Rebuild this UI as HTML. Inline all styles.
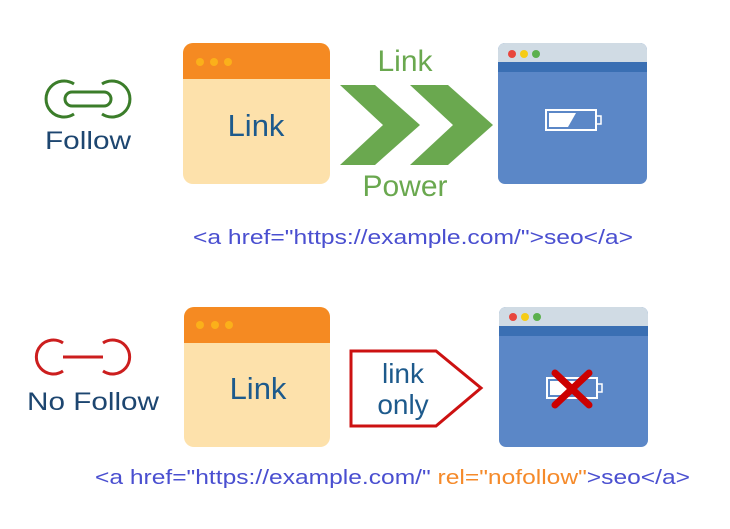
<!DOCTYPE html>
<html><head><meta charset="utf-8"><style>html,body{margin:0;padding:0;background:#fff;}svg{display:block}</style></head><body>
<svg width="730" height="529" viewBox="0 0 730 529" xmlns="http://www.w3.org/2000/svg" font-family="Liberation Sans, DejaVu Sans, sans-serif">
<!-- Follow icon -->
<g fill="none" stroke="#3b7d2a" stroke-width="3">
<path d="M74 84 A18 18 0 1 0 74 114"/>
<path d="M102 84 A18 18 0 1 1 102 114"/>
<rect x="65" y="92" width="46" height="14" rx="7"/>
</g>
<text x="88" y="149" font-size="25" fill="#1d4670" text-anchor="middle" textLength="86" lengthAdjust="spacingAndGlyphs">Follow</text>
<!-- top orange window -->
<rect x="183" y="43" width="147" height="141" rx="10" fill="#fde1ab"/>
<path d="M183 79 V53 a10 10 0 0 1 10 -10 H320 a10 10 0 0 1 10 10 V79 Z" fill="#f58a22"/>
<circle cx="200" cy="62" r="4" fill="#fbb01a"/><circle cx="214" cy="62" r="4" fill="#fbb01a"/><circle cx="228" cy="62" r="4" fill="#fbb01a"/>
<text x="256" y="136" font-size="31" fill="#1d5a8c" text-anchor="middle">Link</text>
<!-- chevrons -->
<polygon points="340,85 375,85 420,125 375,165 340,165 383,125" fill="#6aa84f"/>
<polygon points="410,85 448,85 493,125 448,165 410,165 453,125" fill="#6aa84f"/>
<text x="405" y="71" font-size="30" fill="#6aa84f" text-anchor="middle">Link</text>
<text x="405" y="196" font-size="30" fill="#6aa84f" text-anchor="middle">Power</text>
<!-- top blue window -->
<rect x="498" y="43" width="149" height="141" rx="7" fill="#5b87c7"/>
<path d="M498 62 V50 a7 7 0 0 1 7 -7 H640 a7 7 0 0 1 7 7 V62 Z" fill="#d0dbe4"/>
<rect x="498" y="62" width="149" height="10" fill="#3a6fb3"/>
<circle cx="512" cy="54" r="4" fill="#e8463d"/><circle cx="524" cy="54" r="4" fill="#f6cc16"/><circle cx="536" cy="54" r="4" fill="#5bb04d"/>
<rect x="546" y="110" width="50" height="20" fill="none" stroke="#fff" stroke-width="2"/>
<rect x="596" y="116" width="5" height="8" fill="none" stroke="#fff" stroke-width="1.5"/>
<polygon points="549,113 576,113 568,127 549,127" fill="#fff"/>
<text x="413" y="244" font-size="20" fill="#4a4fd0" text-anchor="middle" textLength="440" lengthAdjust="spacingAndGlyphs">&lt;a href="https://example.com/"&gt;seo&lt;/a&gt;</text>
<!-- No follow icon -->
<g fill="none" stroke="#cc1e1e" stroke-width="3">
<path d="M63 343 A17 17 0 1 0 63 371"/>
<path d="M103 343 A17 17 0 1 1 103 371"/>
<line x1="63" y1="357" x2="103" y2="357"/>
</g>
<text x="93" y="410" font-size="25" fill="#1d4670" text-anchor="middle" textLength="132" lengthAdjust="spacingAndGlyphs">No Follow</text>
<!-- bottom orange window -->
<rect x="184" y="307" width="146" height="140" rx="10" fill="#fde1ab"/>
<path d="M184 343 V317 a10 10 0 0 1 10 -10 H320 a10 10 0 0 1 10 10 V343 Z" fill="#f58a22"/>
<circle cx="200" cy="325" r="4" fill="#fbb01a"/><circle cx="215" cy="325" r="4" fill="#fbb01a"/><circle cx="229" cy="325" r="4" fill="#fbb01a"/>
<text x="258" y="399" font-size="31" fill="#1d5a8c" text-anchor="middle">Link</text>
<!-- tag -->
<polygon points="351,351 436,351 481,388 436,426 351,426" fill="#fff" stroke="#cc1111" stroke-width="3"/>
<text x="403" y="383" font-size="28" fill="#1d5a8c" text-anchor="middle">link</text>
<text x="403" y="414" font-size="28" fill="#1d5a8c" text-anchor="middle">only</text>
<!-- bottom blue window -->
<rect x="499" y="307" width="149" height="140" rx="7" fill="#5b87c7"/>
<path d="M499 326 V314 a7 7 0 0 1 7 -7 H641 a7 7 0 0 1 7 7 V326 Z" fill="#d0dbe4"/>
<rect x="499" y="326" width="149" height="10" fill="#3a6fb3"/>
<circle cx="513" cy="317" r="4" fill="#e8463d"/><circle cx="525" cy="317" r="4" fill="#f6cc16"/><circle cx="537" cy="317" r="4" fill="#5bb04d"/>
<rect x="547" y="378" width="50" height="20" fill="none" stroke="#fff" stroke-width="2"/>
<rect x="597" y="384" width="5" height="8" fill="none" stroke="#fff" stroke-width="1.5"/>
<polygon points="550,381 577,381 569,395 550,395" fill="#fff"/>
<g stroke="#cc0000" stroke-width="7" stroke-linecap="round">
<line x1="555" y1="373" x2="589" y2="405"/><line x1="589" y1="373" x2="555" y2="405"/>
</g>
<text x="95" y="484" font-size="20" textLength="595" lengthAdjust="spacingAndGlyphs"><tspan fill="#4a4fd0">&lt;a href="https://example.com/" </tspan><tspan fill="#f58a2a">rel="nofollow"</tspan><tspan fill="#4a4fd0">&gt;seo&lt;/a&gt;</tspan></text>
</svg>
</body></html>
